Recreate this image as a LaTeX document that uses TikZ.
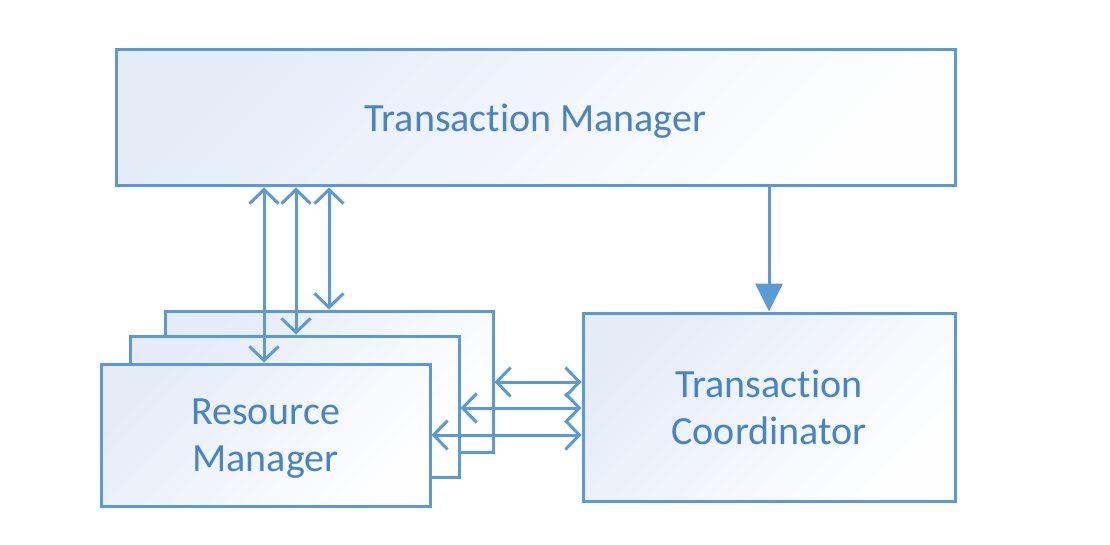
\documentclass[tikz,border=0pt]{standalone}
\usepackage{fontspec}
\setmainfont{Carlito}[Ligatures=NoCommon]
\usetikzlibrary{arrows.meta}
\definecolor{lineblue}{RGB}{91,155,213}
\definecolor{textblue}{RGB}{70,132,196}
\definecolor{boxfill}{RGB}{229,236,248}
\begin{document}
\begin{tikzpicture}[x=1pt, y=-1pt, line width=3pt,
  box/.style={draw=lineblue, top color=boxfill, bottom color=white!97!boxfill, shading angle=45,
    inner sep=0pt, align=center, text=textblue, text depth=0pt, font=\fontsize{40}{47}\selectfont},
  dbl/.style={draw=lineblue, {Straight Barb[length=14pt,width=29pt,line width=3pt]}-{Straight Barb[length=14pt,width=29pt,line width=3pt]}},
  fwd/.style={draw=lineblue, -{Triangle[length=28pt,width=27pt]}}]
				\useasboundingbox (0,0) rectangle (1110,545);
				% 1. 上方与右侧的框
				\node[box, minimum width=839pt, minimum height=136pt] (tm) at (535.5,118) {Transaction Manager};
				\node[box, minimum width=372pt, minimum height=188pt] (tc) at (769,407) {Transaction\\Coordinator};
				
				% 2. 叠放的 Resource Manager (从后往前)
				\node[box, minimum width=328pt, minimum height=141pt] (rmback) at (329,381.5) {};
				\node[box, minimum width=329pt, minimum height=141pt] (rmmid) at (294.5,406.5) {};
				\node[box, minimum width=329pt, minimum height=142pt] (rm) at (265.5,435) {Resource\\Manager};
				
				% 3. 竖向双箭头
				\coordinate (v1) at (264,0);
				\coordinate (v2) at (296,0);
				\coordinate (v3) at (329,0);
				\draw[dbl] (tm.south -| v1) -- (rm.north -| v1);
				\draw[dbl] (tm.south -| v2) -- (rmmid.north -| v2);
				\draw[dbl] (tm.south -| v3) -- (rmback.north -| v3);
				
				% 4. 横向双箭头
				\coordinate (h1) at (0,382);
				\coordinate (h2) at (0,408);
				\coordinate (h3) at (0,435);
				\draw[dbl] (rmback.east |- h1) -- (tc.west |- h1);
				\draw[dbl] (rmmid.east |- h2) -- (tc.west |- h2);
				\draw[dbl] (rm.east |- h3) -- (tc.west |- h3);
				
				% 5. TM -> TC
				\draw[fwd] (tm.south -| tc) -- (tc.north);
			\end{tikzpicture}
\end{document}
